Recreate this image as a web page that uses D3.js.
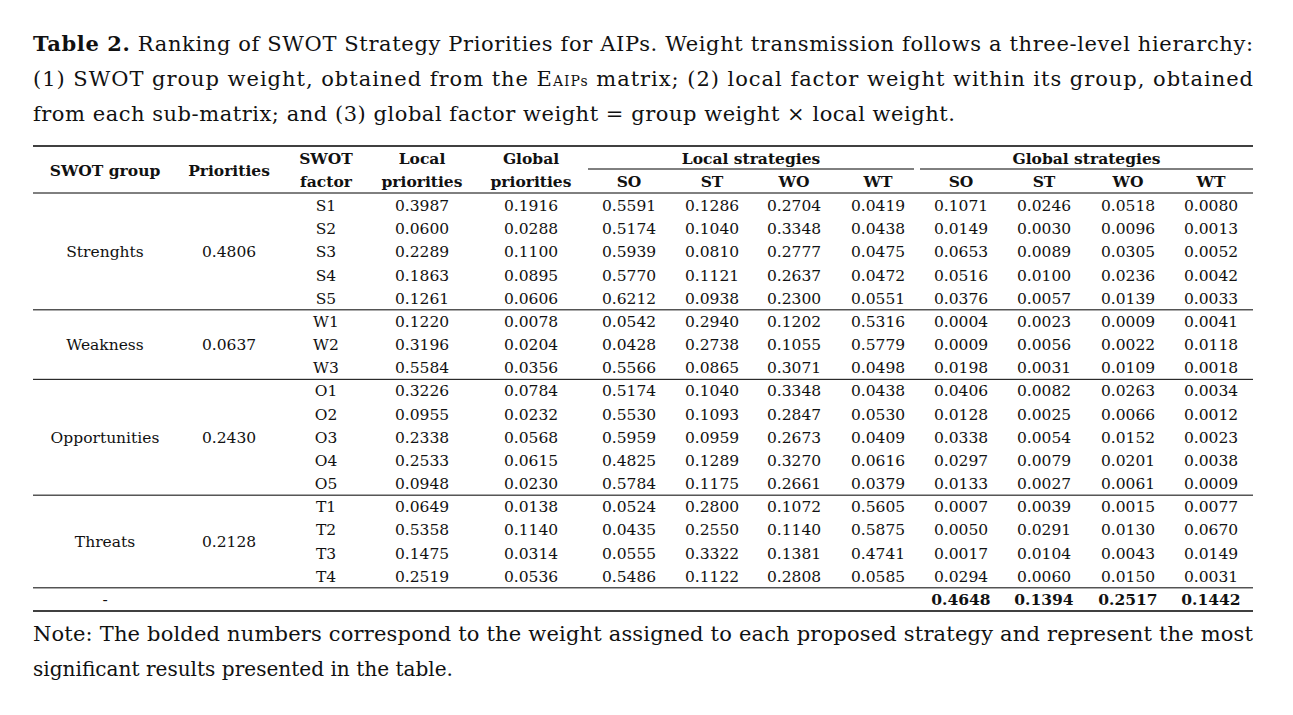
<!DOCTYPE html>
<html><head><meta charset="utf-8">
<script src="https://cdn.jsdelivr.net/npm/d3@7"></script>
<style>body{margin:0;background:#fff}</style>
</head><body><svg id="c" width="1293" height="715"></svg>
<script>
const groups = ["Strenghts", "Weakness", "Opportunities", "Threats"];
const groupPriorities = ["0.4806", "0.0637", "0.2430", "0.2128"];
const groupSizes = [5, 3, 5, 4];
const factors = ["S1","S2","S3","S4","S5","W1","W2","W3","O1","O2","O3","O4","O5","T1","T2","T3","T4"];
const localPriorities = ["0.3987","0.0600","0.2289","0.1863","0.1261","0.1220","0.3196","0.5584","0.3226","0.0955","0.2338","0.2533","0.0948","0.0649","0.5358","0.1475","0.2519"];
const globalPriorities = ["0.1916","0.0288","0.1100","0.0895","0.0606","0.0078","0.0204","0.0356","0.0784","0.0232","0.0568","0.0615","0.0230","0.0138","0.1140","0.0314","0.0536"];
const localStrategies = [
  ["0.5591","0.1286","0.2704","0.0419"],["0.5174","0.1040","0.3348","0.0438"],["0.5939","0.0810","0.2777","0.0475"],
  ["0.5770","0.1121","0.2637","0.0472"],["0.6212","0.0938","0.2300","0.0551"],["0.0542","0.2940","0.1202","0.5316"],
  ["0.0428","0.2738","0.1055","0.5779"],["0.5566","0.0865","0.3071","0.0498"],["0.5174","0.1040","0.3348","0.0438"],
  ["0.5530","0.1093","0.2847","0.0530"],["0.5959","0.0959","0.2673","0.0409"],["0.4825","0.1289","0.3270","0.0616"],
  ["0.5784","0.1175","0.2661","0.0379"],["0.0524","0.2800","0.1072","0.5605"],["0.0435","0.2550","0.1140","0.5875"],
  ["0.0555","0.3322","0.1381","0.4741"],["0.5486","0.1122","0.2808","0.0585"]];
const globalStrategies = [
  ["0.1071","0.0246","0.0518","0.0080"],["0.0149","0.0030","0.0096","0.0013"],["0.0653","0.0089","0.0305","0.0052"],
  ["0.0516","0.0100","0.0236","0.0042"],["0.0376","0.0057","0.0139","0.0033"],["0.0004","0.0023","0.0009","0.0041"],
  ["0.0009","0.0056","0.0022","0.0118"],["0.0198","0.0031","0.0109","0.0018"],["0.0406","0.0082","0.0263","0.0034"],
  ["0.0128","0.0025","0.0066","0.0012"],["0.0338","0.0054","0.0152","0.0023"],["0.0297","0.0079","0.0201","0.0038"],
  ["0.0133","0.0027","0.0061","0.0009"],["0.0007","0.0039","0.0015","0.0077"],["0.0050","0.0291","0.0130","0.0670"],
  ["0.0017","0.0104","0.0043","0.0149"],["0.0294","0.0060","0.0150","0.0031"]];
const totals = ["0.4648","0.1394","0.2517","0.1442"];
const strategies = ["SO","ST","WO","WT"];

const svg = d3.select("#c");
const F = "'DejaVu Serif', serif";
const L = 33, R = 1253;

const cols = ["grp","pri","fac","loc","glo","lSO","lST","lWO","lWT","gSO","gST","gWO","gWT"];
const x = d3.scaleOrdinal().domain(cols).range([105,229,326,422,531,629,712,794,878,961,1044,1128,1211]);
const y = d3.scaleBand().domain(d3.range(factors.length + 1)).range([194, 611]).paddingInner(0);

// title
const title = svg.append("g").attr("font-family", F).attr("font-size", 21).attr("fill", "#111");
const t1 = title.append("text").attr("x", L).attr("y", 51).attr("textLength", R - L).attr("lengthAdjust", "spacing");
t1.append("tspan").attr("font-weight", "bold").text("Table 2.");
t1.append("tspan").text(" Ranking of SWOT Strategy Priorities for AIPs. Weight transmission follows a three-level hierarchy:");
const t2 = title.append("text").attr("x", L).attr("y", 86).attr("textLength", R - L).attr("lengthAdjust", "spacing");
t2.append("tspan").text("(1) SWOT group weight, obtained from the E");
t2.append("tspan").attr("font-size", 14).text("AIPs");
t2.append("tspan").text(" matrix; (2) local factor weight within its group, obtained");
title.append("text").attr("x", L).attr("y", 121).attr("textLength", 922).attr("lengthAdjust", "spacing")
  .text("from each sub-matrix; and (3) global factor weight = group weight × local weight.");

const tb = svg.append("g").attr("font-family", F).attr("font-size", 15.5).attr("fill", "#111").attr("text-anchor", "middle");
const line = (x1, x2, yy, w) => svg.append("line").attr("x1", x1).attr("x2", x2).attr("y1", yy).attr("y2", yy).attr("stroke", "#000").attr("stroke-width", w);

// header
line(L, R, 146, 1.5);
tb.append("text").attr("x", x("grp")).attr("y", 176).attr("font-weight", "bold").text("SWOT group");
tb.append("text").attr("x", x("pri")).attr("y", 176).attr("font-weight", "bold").text("Priorities");
[["fac","SWOT","factor"],["loc","Local","priorities"],["glo","Global","priorities"]].forEach(([c,a,b]) => {
  tb.append("text").attr("x", x(c)).attr("y", 164).attr("font-weight", "bold").text(a);
  tb.append("text").attr("x", x(c)).attr("y", 187).attr("font-weight", "bold").text(b);
});
tb.append("text").attr("x", (588+914)/2).attr("y", 164).attr("font-weight", "bold").text("Local strategies");
tb.append("text").attr("x", (920+R)/2).attr("y", 164).attr("font-weight", "bold").text("Global strategies");
line(588, 914, 169, 1); line(920, R, 169, 1);
strategies.forEach(s => {
  tb.append("text").attr("x", x("l" + s)).attr("y", 187).attr("font-weight", "bold").text(s);
  tb.append("text").attr("x", x("g" + s)).attr("y", 187).attr("font-weight", "bold").text(s);
});
line(L, R, 193, 1);

// rows
const cy = i => y(i) + y.bandwidth() / 2 + 5.5;
factors.forEach((f, i) => {
  const vals = [f, localPriorities[i], globalPriorities[i], ...localStrategies[i], ...globalStrategies[i]];
  cols.slice(2).forEach((c, j) => tb.append("text").attr("x", x(c)).attr("y", cy(i)).text(vals[j]));
});
let start = 0;
groups.forEach((g, k) => {
  const mid = (y(start) + y(start + groupSizes[k])) / 2 + 5.5;
  tb.append("text").attr("x", x("grp")).attr("y", mid).text(g);
  tb.append("text").attr("x", x("pri")).attr("y", mid).text(groupPriorities[k]);
  start += groupSizes[k];
  line(L, R, y(start), 1);
});
const tr = factors.length;
tb.append("text").attr("x", x("grp")).attr("y", cy(tr)).text("-");
totals.forEach((v, j) => tb.append("text").attr("x", x("g" + strategies[j])).attr("y", cy(tr)).attr("font-weight", "bold").text(v));
line(L, R, y(tr) + y.bandwidth(), 1.5);

// note
const note = svg.append("g").attr("font-family", F).attr("font-size", 21).attr("fill", "#111");
note.append("text").attr("x", L).attr("y", 641).attr("textLength", R - L).attr("lengthAdjust", "spacing")
  .text("Note: The bolded numbers correspond to the weight assigned to each proposed strategy and represent the most");
note.append("text").attr("x", L).attr("y", 676).attr("textLength", 420).attr("lengthAdjust", "spacingAndGlyphs")
  .text("significant results presented in the table.");
</script></body></html>
